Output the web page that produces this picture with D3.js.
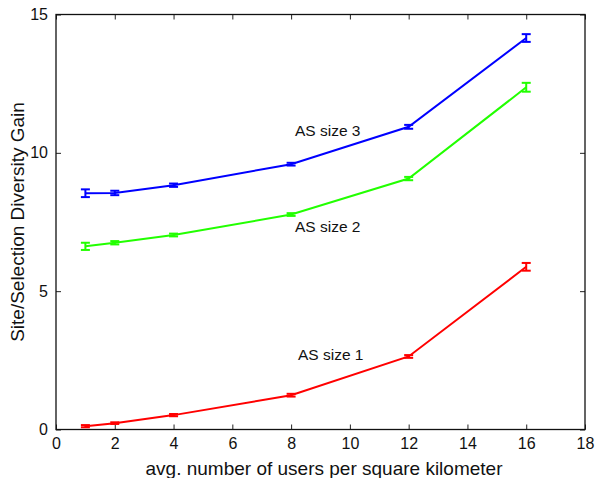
<!DOCTYPE html>
<html>
<head>
<meta charset="utf-8">
<script src="https://cdn.jsdelivr.net/npm/d3@7"></script>
<style>
  body { margin: 0; background: #fff; }
  text { font-family: "Liberation Sans", Arial, sans-serif; fill: #111; }
  .tick text { font-size: 16px; }
</style>
</head>
<body>
<div id="vis"></div>
<script>
// x values (users per square km)
var density = [1, 2, 4, 8, 12, 16];

// mean gain per AS size
var as1 = [0.12, 0.23, 0.52, 1.24, 2.64, 5.88];
var as2 = [6.62, 6.75, 7.03, 7.77, 9.07, 12.37];
var as3 = [8.54, 8.55, 8.83, 9.59, 10.94, 14.15];

// half length of the error bars
var as1Err = [0.04, 0.03, 0.04, 0.05, 0.05, 0.14];
var as2Err = [0.13, 0.06, 0.05, 0.05, 0.06, 0.16];
var as3Err = [0.14, 0.08, 0.06, 0.05, 0.07, 0.14];

var xTicks = [0, 2, 4, 6, 8, 10, 12, 14, 16, 18];
var yTicks = [0, 5, 10, 15];

var seriesNames = ["AS size 1", "AS size 2", "AS size 3"];

var width = 595, height = 478;
var plotLeft = 56, plotRight = 585, plotTop = 14.5, plotBottom = 429.5;

var svg = d3.select("#vis").append("svg")
    .attr("width", width)
    .attr("height", height);

var xScale = d3.scaleLinear().domain([0, 18]).range([plotLeft, plotRight]);
var yScale = d3.scaleLinear().domain([0, 15]).range([plotBottom, plotTop]);

// axes with inward ticks (box style)
svg.append("g")
    .attr("transform", "translate(0," + plotBottom + ")")
    .call(d3.axisBottom(xScale).tickValues(xTicks).tickSizeInner(-5).tickSizeOuter(0).tickPadding(8))
    .call(function(g){ g.select(".domain").remove(); });

svg.append("g")
    .attr("transform", "translate(0," + plotTop + ")")
    .call(d3.axisTop(xScale).tickValues(xTicks).tickSizeInner(-5).tickSizeOuter(0).tickFormat(""))
    .call(function(g){ g.select(".domain").remove(); });

svg.append("g")
    .attr("transform", "translate(" + plotLeft + ",0)")
    .call(d3.axisLeft(yScale).tickValues(yTicks).tickSizeInner(-5).tickSizeOuter(0).tickPadding(8))
    .call(function(g){ g.select(".domain").remove(); });

svg.append("g")
    .attr("transform", "translate(" + plotRight + ",0)")
    .call(d3.axisRight(yScale).tickValues(yTicks).tickSizeInner(-5).tickSizeOuter(0).tickFormat(""))
    .call(function(g){ g.select(".domain").remove(); });

svg.selectAll(".tick line").attr("stroke", "#222");

svg.append("rect")
    .attr("x", plotLeft).attr("y", plotTop)
    .attr("width", plotRight - plotLeft).attr("height", plotBottom - plotTop)
    .attr("fill", "none")
    .attr("stroke", "#111")
    .attr("stroke-width", 1.3);

var series = [
    { name: seriesNames[0], values: as1, err: as1Err, color: "#ff0000" },
    { name: seriesNames[1], values: as2, err: as2Err, color: "#22ff00" },
    { name: seriesNames[2], values: as3, err: as3Err, color: "#0000ff" }
];

var line = d3.line()
    .x(function(d) { return xScale(d.x); })
    .y(function(d) { return yScale(d.y); });

series.forEach(function(s){
    var pts = density.map(function(x, i){ return { x: x, y: s.values[i], e: s.err[i] }; });

    svg.append("path")
        .datum(pts)
        .attr("fill", "none")
        .attr("stroke", s.color)
        .attr("stroke-width", 2)
        .attr("d", line);

    var eb = svg.append("g").attr("stroke", s.color).attr("stroke-width", 2);
    pts.forEach(function(p){
        var cx = xScale(p.x);
        var y0 = yScale(p.y - p.e), y1 = yScale(p.y + p.e);
        eb.append("line").attr("x1", cx).attr("x2", cx).attr("y1", y0).attr("y2", y1);
        eb.append("line").attr("x1", cx - 4.5).attr("x2", cx + 4.5).attr("y1", y0).attr("y2", y0);
        eb.append("line").attr("x1", cx - 4.5).attr("x2", cx + 4.5).attr("y1", y1).attr("y2", y1);
    });
});

// series labels
svg.append("text").attr("x", 295).attr("y", 136).attr("font-size", 15.5).text(seriesNames[2]);
svg.append("text").attr("x", 295).attr("y", 232).attr("font-size", 15.5).text(seriesNames[1]);
svg.append("text").attr("x", 298).attr("y", 360).attr("font-size", 15.5).text(seriesNames[0]);

// axis labels
svg.append("text")
    .attr("x", 324)
    .attr("y", 475)
    .attr("text-anchor", "middle")
    .attr("font-size", 19)
    .text("avg. number of users per square kilometer");

svg.append("text")
    .attr("transform", "translate(24,222) rotate(-90)")
    .attr("text-anchor", "middle")
    .attr("font-size", 19)
    .text("Site/Selection Diversity Gain");
</script>
</body>
</html>
